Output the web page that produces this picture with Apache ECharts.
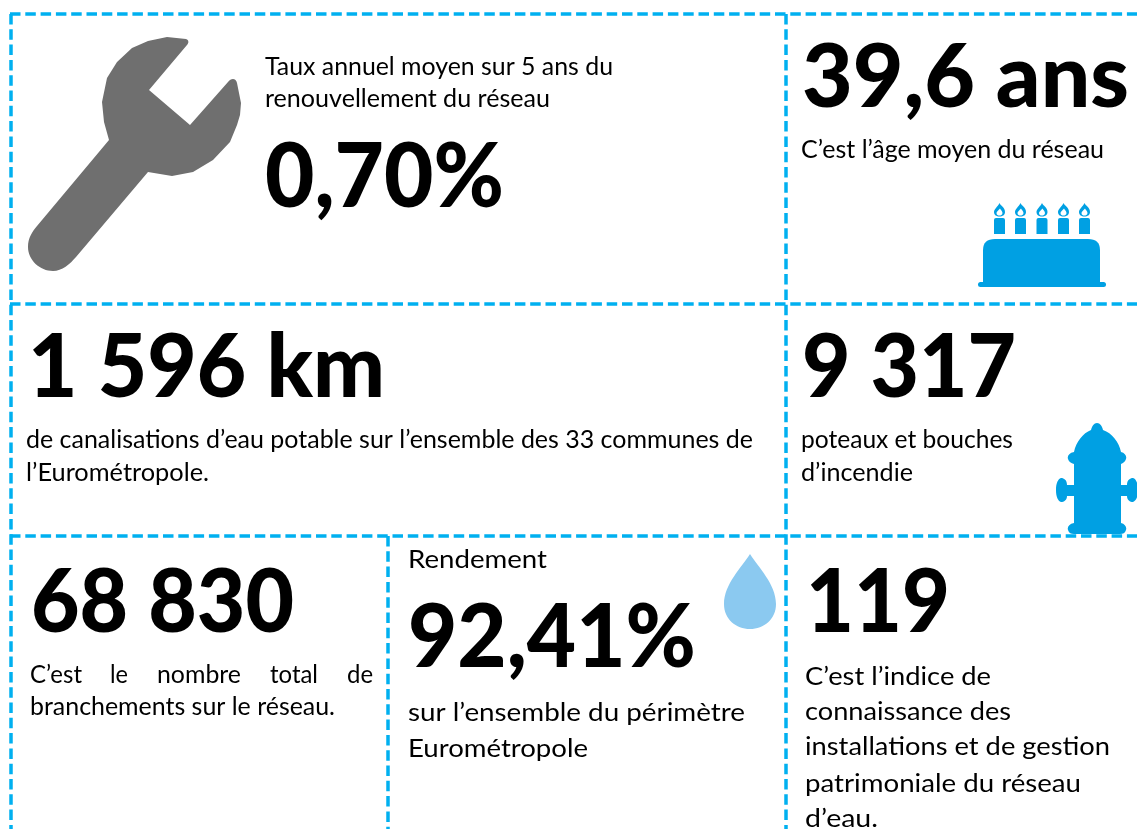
<!DOCTYPE html>
<html>
<head>
<meta charset="utf-8">
<style>html,body{margin:0;padding:0;background:#fff}#main{width:1137px;height:831px}</style>
<script src="https://cdn.jsdelivr.net/npm/echarts@6/dist/echarts.min.js"></script>
</head>
<body>
<div id="main"></div>
<script>
// chiffres et textes du tableau de bord
const figures = ['0,70%', '39,6 ans', '1 596 km', '9 317', '68 830', '92,41%', '119'];
const renouvellementText = ['Taux annuel moyen sur 5 ans du', 'renouvellement du réseau'];
const ageText = ['C’est l’âge moyen du réseau'];
const canalisationsText = ['de canalisations d’eau potable sur l’ensemble des 33 communes de', 'l’Eurométropole.'];
const poteauxText = ['poteaux et bouches', 'd’incendie'];
const branchementsWords = ['C’est', 'le', 'nombre', 'total', 'de'];
const branchementsText = ['branchements sur le réseau.'];
const rendementText = ['Rendement', 'sur l’ensemble du périmètre', 'Eurométropole'];
const indiceText = ['C’est l’indice de', 'connaissance des', 'installations et de gestion', 'patrimoniale du réseau', 'd’eau.'];

const FONT = 'Lato, Carlito, Calibri, sans-serif';
const BLUE_LINE = '#00b0f0', BLUE_ICON = '#00a0e3', BLUE_DROP = '#8bc9f0', GREY = '#6f6f6f';
const BODY = 24.5;

let measure = document.createElement('canvas').getContext('2d');
let elements = [];
let nPath = 0;

// texte placé par sa ligne de base et étiré pour tenir dans la largeur lue
function addText(text, x0, x1, baseline, size, bold) {
    let font = (bold ? '900 ' : '400 ') + size + 'px ' + FONT;
    measure.font = font;
    let w = measure.measureText(text).width;
    elements.push({
        type: 'text', x: x0, y: baseline - size * 0.32, originX: 0, originY: 0,
        scaleX: (x1 - x0) / w,
        style: {text: text, font: font, fill: '#000', align: 'left', verticalAlign: 'middle'}
    });
}
function addLine(x1, y1, x2, y2) {
    elements.push({
        type: 'line', shape: {x1, y1, x2, y2},
        style: {stroke: BLUE_LINE, lineWidth: 3.5, lineDash: [10.5, 4.8]}
    });
}
// le composant graphic ne connait que les formes enregistrees
function addPath(d, fill) {
    let name = 'icon' + (nPath++);
    echarts.graphic.registerShape(name, echarts.graphic.extendPath(d, {}));
    elements.push({type: name, style: {fill: fill}});
}

// quadrillage pointillé
addLine(10, 14, 1137, 14);
addLine(10, 304, 1137, 304);
addLine(10, 536, 1137, 536);
addLine(11, 14, 11, 829);
addLine(786, 14, 786, 829);
addLine(388, 536, 388, 829);

// clé plate
addPath('M186,39 C189,40 189,43 187,45 L149,90 L190,125 L228,82 C231,78 236,78 237,83 L241,103 L240,115 L237,125 L230,142 L213,160 L193,172 L172,176 L148,172 L76,257 C70,264 62,271 53,271 C40,271 28,260 28,247 C28,238 32,232 37,226 L109,140 L104,122 L102,102 L107,78 L117,62 L132,48 L148,41 L167,37 Z', GREY);

// gâteau
[999.5, 1020.5, 1042, 1063.5, 1084.5].forEach(cx => {
    addPath('M' + (cx - 5.5) + ',234 V220 Q' + (cx - 5.5) + ',218 ' + (cx - 3.5) + ',218 H' + (cx + 3.5) + ' Q' + (cx + 5.5) + ',218 ' + (cx + 5.5) + ',220 V234 Z', BLUE_ICON);
    addPath('M' + cx + ',203 C' + (cx + 1) + ',206 ' + (cx + 5.5) + ',207 ' + (cx + 5.5) + ',212 C' + (cx + 5.5) + ',215 ' + (cx + 3) + ',216.5 ' + cx + ',216.5 C' + (cx - 3) + ',216.5 ' + (cx - 5.5) + ',215 ' + (cx - 5.5) + ',212 C' + (cx - 5.5) + ',209 ' + (cx - 2) + ',207 ' + cx + ',203 Z', BLUE_ICON);
    addPath('M' + (cx + 0.5) + ',208.5 C' + (cx + 1) + ',210 ' + (cx + 3) + ',211 ' + (cx + 3) + ',213 C' + (cx + 3) + ',215 ' + (cx + 1) + ',215.5 ' + cx + ',215.5 C' + (cx - 1.5) + ',215.5 ' + (cx - 3) + ',215 ' + (cx - 3) + ',213 C' + (cx - 3) + ',211.5 ' + (cx - 1) + ',210.5 ' + (cx + 0.5) + ',208.5 Z', '#fff');
});
addPath('M983,284 V250 Q983,239 995,239 H1088 Q1100,239 1100,250 V284 Z', BLUE_ICON);
elements.push({type: 'rect', shape: {x: 978, y: 282, width: 128, height: 5, r: 2.5}, style: {fill: BLUE_ICON}});

// borne d'incendie
addPath('M1097,423 C1100,423 1102,426 1103,430 C1112,433 1119,442 1121,452 C1125,453 1127,456 1126,459 C1125,462 1123,463 1121,464 V485 H1127 C1127,480 1130,478 1133,478 C1136,479 1138,483 1138,490 C1138,497 1136,501 1133,502 C1130,502 1127,500 1127,496 H1121 V523 C1125,524 1127,527 1126,530 C1125,533 1123,534 1120,534 H1074 C1071,534 1069,533 1068,530 C1067,527 1069,524 1074,523 V496 H1067 C1067,500 1064,502 1061,502 C1058,501 1056,497 1056,490 C1056,483 1058,479 1061,478 C1064,478 1067,480 1067,485 H1074 V464 C1071,463 1069,462 1068,459 C1067,456 1069,453 1074,452 C1076,442 1083,433 1091,430 C1092,426 1094,423 1097,423 Z', BLUE_ICON);

// goutte
addPath('M750,554 C758,567 776,584 776,604 C776,619 764,629 750,629 C736,629 724,619 724,604 C724,584 742,567 750,554 Z', BLUE_DROP);

// grands chiffres
addText(figures[0], 265, 504, 207, 90, true);
addText(figures[1], 802, 1129, 107, 88, true);
addText(figures[2], 28, 385, 397, 88, true);
addText(figures[3], 802, 1016, 397, 88, true);
addText(figures[4], 31, 294, 632, 88, true);
addText(figures[5], 408, 696, 667, 88, true);
addText(figures[6], 806, 950, 632, 88, true);

// textes courants
addText(renouvellementText[0], 265, 613, 75, BODY);
addText(renouvellementText[1], 265, 550, 107, BODY);
addText(ageText[0], 801, 1104, 158, BODY);
addText(canalisationsText[0], 26, 753, 448, BODY);
addText(canalisationsText[1], 26, 209, 481, BODY);
addText(poteauxText[0], 801, 1013, 448, BODY);
addText(poteauxText[1], 801, 913, 481, BODY);
let wordX = [[30, 82], [110, 128], [157, 241], [270, 318], [347, 373]];
branchementsWords.forEach((w, i) => addText(w, wordX[i][0], wordX[i][1], 683, BODY));
addText(branchementsText[0], 30, 335, 715, BODY);
addText(rendementText[0], 408, 547, 568, BODY);
addText(rendementText[1], 408, 745, 721, BODY);
addText(rendementText[2], 408, 588, 757, BODY);
addText(indiceText[0], 805, 991, 685, BODY);
addText(indiceText[1], 805, 1011, 720, BODY);
addText(indiceText[2], 805, 1110, 755, BODY);
addText(indiceText[3], 805, 1081, 792, BODY);
addText(indiceText[4], 805, 878, 827, BODY);

let chart = echarts.init(document.getElementById('main'));
chart.setOption({
    backgroundColor: '#fff',
    animation: false,
    graphic: {elements: elements}
});
</script>
</body>
</html>
